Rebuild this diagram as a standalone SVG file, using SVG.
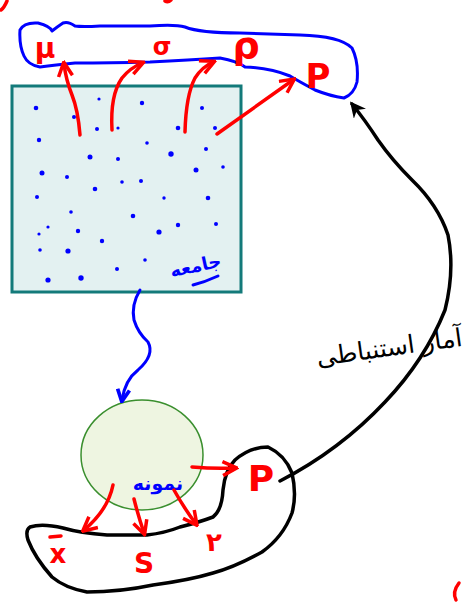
<svg xmlns="http://www.w3.org/2000/svg" width="470" height="607" viewBox="0 0 470 607">
<defs>
<style>
.red{stroke:#ff0000;stroke-width:3.5;fill:none;stroke-linecap:round;stroke-linejoin:round}
.blue{stroke:#0000ff;stroke-width:3;fill:none;stroke-linecap:round;stroke-linejoin:round}
.blk{stroke:#000;stroke-width:3.5;fill:none;stroke-linecap:round;stroke-linejoin:round}
.rt{fill:#ff0000;font-family:"DejaVu Sans","Liberation Sans",sans-serif;font-weight:bold}
.bt{fill:#0000ff;font-family:"DejaVu Sans",sans-serif;font-weight:bold}
.dot{fill:#0000ff}
</style>
<marker id="ra" viewBox="0 0 10 10" refX="8" refY="5" markerWidth="5" markerHeight="5" orient="auto" markerUnits="strokeWidth"><path d="M1,1 L9,5 L1,9" fill="none" stroke="#ff0000" stroke-width="2"/></marker>
<marker id="ba" viewBox="0 0 10 10" refX="8" refY="5" markerWidth="5" markerHeight="5" orient="auto" markerUnits="strokeWidth"><path d="M1,1 L9,5 L1,9" fill="none" stroke="#0000ff" stroke-width="2.5"/></marker>
<marker id="ka" viewBox="0 0 10 10" refX="8" refY="5" markerWidth="4.5" markerHeight="4.5" orient="auto" markerUnits="strokeWidth"><path d="M0,0 L10,5 L0,10 L3,5 Z" fill="#000"/></marker>
</defs>

<g id="population">
<rect x="12" y="86" width="229" height="206" fill="#e3f1f1" stroke="#137a7a" stroke-width="3"/>
<g class="dots">
<circle class="dot" cx="36" cy="108" r="2.3"/><circle class="dot" cx="99" cy="99" r="1.6"/><circle class="dot" cx="142" cy="103" r="2.2"/><circle class="dot" cx="202" cy="108" r="2"/>
<circle class="dot" cx="74" cy="117" r="2"/><circle class="dot" cx="97" cy="129" r="2"/><circle class="dot" cx="118" cy="128" r="1.6"/><circle class="dot" cx="178" cy="128" r="2.3"/><circle class="dot" cx="215" cy="128" r="2"/>
<circle class="dot" cx="39" cy="140" r="2.2"/><circle class="dot" cx="147" cy="143" r="1.8"/><circle class="dot" cx="206" cy="149" r="2"/><circle class="dot" cx="90" cy="157" r="2.5"/><circle class="dot" cx="118" cy="159" r="2"/><circle class="dot" cx="171" cy="154" r="2.7"/>
<circle class="dot" cx="42" cy="173" r="2.5"/><circle class="dot" cx="67" cy="177" r="2"/><circle class="dot" cx="196" cy="170" r="2.5"/><circle class="dot" cx="223" cy="167" r="1.8"/>
<circle class="dot" cx="95" cy="189" r="2.3"/><circle class="dot" cx="122" cy="182" r="1.8"/><circle class="dot" cx="141" cy="181" r="2"/>
<circle class="dot" cx="37" cy="197" r="2"/><circle class="dot" cx="164" cy="198" r="1.7"/><circle class="dot" cx="208" cy="198" r="2.3"/>
<circle class="dot" cx="71" cy="212" r="1.8"/><circle class="dot" cx="133" cy="216" r="2.3"/><circle class="dot" cx="48" cy="227" r="1.6"/><circle class="dot" cx="39" cy="234" r="1.6"/><circle class="dot" cx="78" cy="231" r="2.2"/><circle class="dot" cx="159" cy="232" r="2.6"/><circle class="dot" cx="178" cy="225" r="2.2"/><circle class="dot" cx="216" cy="224" r="2"/>
<circle class="dot" cx="102" cy="241" r="2.2"/><circle class="dot" cx="40" cy="250" r="1.8"/><circle class="dot" cx="68" cy="251" r="2.6"/><circle class="dot" cx="145" cy="260" r="1.8"/><circle class="dot" cx="117" cy="269" r="2"/>
<circle class="dot" cx="48" cy="280" r="2.6"/><circle class="dot" cx="81" cy="278" r="2.7"/>
</g>
<text class="bt" x="196" y="272" font-size="18" text-anchor="middle" transform="rotate(-12 196 268)">جامعه</text>
<path class="blue" d="M193,285 Q205,282 218,276" stroke-width="2.5"/>
</g>

<g id="parameters">
<path class="blue" d="M20,30 Q24,22 38,23 Q50,26 52,31 Q57,27 63,23 Q68,21 75,26 Q82,27 100,26 L150,26 Q175,24 185,27 Q200,33 240,33 L300,35 Q340,36 352,48 Q359,62 357,82 Q354,94 344,98 Q330,96 315,90 Q300,82 290,76 Q270,68 245,67 Q237,61 220,58 Q190,60 150,62 Q110,63 75,63 Q55,65 40,67 Q28,65 24,56 Q19,45 20,30 Z"/>
<text class="rt" x="45" y="58" font-size="28" text-anchor="middle">μ</text>
<text class="rt" x="162" y="55" font-size="24" text-anchor="middle">σ</text>
<text class="rt" x="246" y="58" font-size="38" text-anchor="middle">ρ</text>
<text class="rt" x="318" y="88" font-size="34" text-anchor="middle">P</text>
</g>

<g id="sample">
<ellipse cx="142" cy="455" rx="61" ry="55" fill="#eef5e1" stroke="#3a8f2e" stroke-width="1.5"/>
<text class="bt" x="158" y="490" font-size="19" text-anchor="middle">نمونه</text>
</g>

<g id="statistics">
<path class="blk" d="M30,527 Q42,523 63,528 Q80,533 107,535 L147,535 Q165,533 180,527 Q200,522 213,517 Q222,510 223,490 Q225,470 235,460 Q250,447 268,447 Q285,455 292,473 Q297,495 292,513 Q283,537 262,552 Q235,567 213,573 Q190,580 153,585 Q120,592 87,592 Q65,588 52,577 Q35,558 28,540 Q25,530 30,527 Z" stroke-width="3"/>
<text class="rt" x="58" y="563" font-size="26" text-anchor="middle">x</text>
<path class="red" d="M50,537 L61,536" stroke-width="3"/>
<text class="rt" x="144" y="573" font-size="28" text-anchor="middle">S</text>
<text class="rt" x="214" y="551" font-size="26" text-anchor="middle">٢</text>
<text class="rt" x="261" y="491" font-size="36" text-anchor="middle">P</text>
</g>

<g id="inference-label">
<text x="389" y="356" font-size="25" text-anchor="middle" font-family="DejaVu Sans, sans-serif" fill="#000" transform="rotate(-8 389 345)">آمار استنباطی</text>
</g>

<g id="connectors">
<path class="red" d="M80,135 Q78,110 72,95 Q66,80 64,64" marker-end="url(#ra)"/>
<path class="red" d="M112,130 Q110,95 122,78 Q130,68 142,63" marker-end="url(#ra)"/>
<path class="red" d="M185,132 Q186,95 195,78 Q202,67 213,62" marker-end="url(#ra)"/>
<path class="red" d="M217,134 L293,80" marker-end="url(#ra)"/>
<path class="blue" d="M140,290 Q131,305 134,320 Q138,333 148,342 Q155,355 138,370 Q125,380 122,400" stroke-width="4" marker-end="url(#ba)"/>
<path class="red" d="M192,467 Q215,469 235,468" marker-end="url(#ra)"/>
<path class="red" d="M113,485 Q108,510 84,530" marker-end="url(#ra)"/>
<path class="red" d="M134,499 Q138,515 144,533" marker-end="url(#ra)"/>
<path class="red" d="M174,490 Q184,508 196,524" marker-end="url(#ra)"/>
<path class="blk" d="M280,481 Q340,450 385,402 Q425,360 445,310 Q455,270 448,235 Q438,205 412,180 Q392,160 378,140 Q365,120 352,104" marker-end="url(#ka)"/>
</g>

<g id="fragments">
<path class="red" d="M7,1 Q4,8 1,10" stroke-width="3"/>
<path class="red" d="M165,1 Q168,3 171,0" stroke-width="3"/>
<path class="red" d="M459,583 Q452,592 456,600" stroke-width="3"/>
</g>
</svg>
